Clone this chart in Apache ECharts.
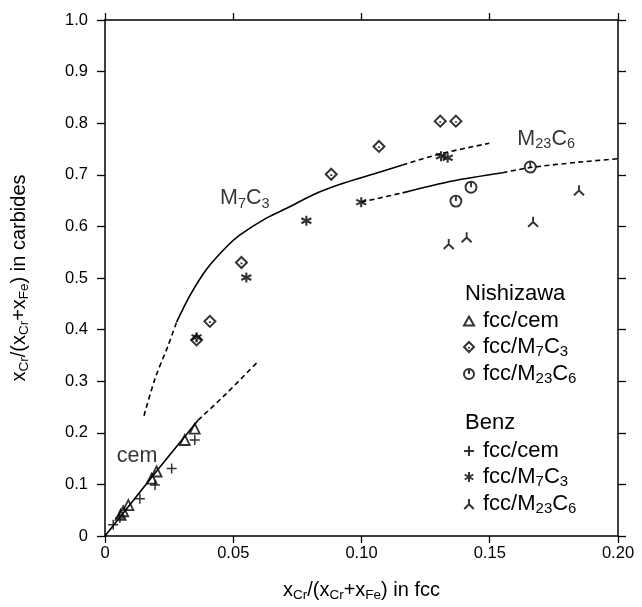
<!DOCTYPE html>
<html>
<head>
<meta charset="utf-8">
<script src="https://cdn.jsdelivr.net/npm/echarts@6/dist/echarts.min.js"></script>
<style>
  html, body { margin: 0; padding: 0; background: #fff; }
  #chart { width: 642px; height: 607px; }
</style>
</head>
<body>
<div id="chart"></div>
<script>
// Axis ticks
const xTicks = [0, 0.05, 0.10, 0.15, 0.20];
const xTickLabels = ['0', '0.05', '0.10', '0.15', '0.20'];
const yTicks = [0, 0.1, 0.2, 0.3, 0.4, 0.5, 0.6, 0.7, 0.8, 0.9, 1.0];
const yTickLabels = ['0', '0.1', '0.2', '0.3', '0.4', '0.5', '0.6', '0.7', '0.8', '0.9', '1.0'];

// Nishizawa measurements [x in fcc, x in carbide]
const nishCem = [[0.0061, 0.041], [0.0071, 0.048], [0.0091, 0.060], [0.0182, 0.111],
                 [0.0201, 0.125], [0.0311, 0.186], [0.035, 0.208]];
const nishM7C3 = [[0.0357, 0.380], [0.0409, 0.416], [0.0532, 0.530], [0.0882, 0.701],
                  [0.1068, 0.755], [0.1307, 0.804], [0.1368, 0.804]];
const nishM23C6 = [[0.1368, 0.649], [0.1427, 0.676], [0.1658, 0.715]];

// Benz measurements
const benzCem = [[0.0032, 0.022], [0.0058, 0.035], [0.0136, 0.072], [0.0195, 0.099],
                 [0.026, 0.131], [0.035, 0.186]];
const benzM7C3 = [[0.0357, 0.385], [0.0551, 0.501], [0.0785, 0.611], [0.0999, 0.647],
                  [0.131, 0.736], [0.1336, 0.733]];
const benzM23C6 = [[0.134, 0.566], [0.141, 0.579], [0.1669, 0.609], [0.1848, 0.670]];

// Calculated partition curves (solid = stable range, dashed = extrapolated)
const cemSolid = [[0, 0], [0.02, 0.125], [0.0363, 0.2245]];
const cemDash = [[0.0363, 0.2245], [0.0473, 0.276], [0.060, 0.340]];
const m7c3DashLow = [[0.0152, 0.233], [0.0195, 0.305], [0.0246, 0.369], [0.0279, 0.4145]];
const m7c3Solid = [[0.0279, 0.4145], [0.0331, 0.466], [0.0396, 0.517], [0.0473, 0.560],
                   [0.0525, 0.583], [0.0629, 0.616], [0.072, 0.638], [0.081, 0.661],
                   [0.0914, 0.681], [0.1044, 0.701], [0.1160, 0.719]];
const m7c3DashHigh = [[0.1160, 0.719], [0.131, 0.741], [0.1498, 0.761]];
const m23c6DashLow = [[0.0999, 0.647], [0.116, 0.665]];
const m23c6Solid = [[0.116, 0.665], [0.1355, 0.688], [0.155, 0.704]];
const m23c6DashHigh = [[0.155, 0.704], [0.1658, 0.714], [0.1848, 0.7245], [0.1997, 0.731]];

// Curve names, anchored in data coordinates
const curveLabelPos = [[0.0545, 0.654], [0.172, 0.770], [0.0125, 0.154]];
const curveLabelText = ['{c|M}{cs|7}{c|C}{cs|3}', '{c|M}{cs|23}{c|C}{cs|6}', '{c|cem}'];

const FONT = '"Liberation Sans", Arial, Helvetica, sans-serif';
const INK = '#000';

const rich = {
  n: { fontFamily: FONT, fontSize: 20, lineHeight: 24, color: INK },
  s: { fontFamily: FONT, fontSize: 13.5, lineHeight: 13, color: INK, verticalAlign: 'bottom' },
  l: { fontFamily: FONT, fontSize: 22, lineHeight: 24, color: INK },
  ls: { fontFamily: FONT, fontSize: 15, lineHeight: 13, color: INK, verticalAlign: 'bottom' },
  c: { fontFamily: FONT, fontSize: 21.5, lineHeight: 25, color: INK },
  cs: { fontFamily: FONT, fontSize: 14.5, lineHeight: 14, color: INK, verticalAlign: 'bottom' },
  g: { width: 4 }
};

// Marker outlines
const SYM = {
  tri: 'path://M5,0 L10,9 L0,9 Z',
  dia: 'path://M5,0 L10,5 L5,10 L0,5 Z M5,5 L5,6.5',
  cir: 'path://M5,0.5 A4.5,4.5 0 1 1 4.99,0.5 Z M5,1 L5,5',
  plus: 'path://M5,0 L5,10 M0,5 L10,5',
  star: 'path://M5,0 L5,10 M0.7,2.5 L9.3,7.5 M0.7,7.5 L9.3,2.5',
  ylam: 'path://M5,0 L5,5 L0.5,9.5 M5,5 L9.5,9.5'
};

function scatter(name, data, symbol, size, bw) {
  return {
    type: 'scatter', name: name, data: data, symbol: symbol, symbolSize: size,
    itemStyle: { color: 'rgba(255,255,255,0)', borderColor: INK, borderWidth: bw },
    z: 5
  };
}
function curve(data, dashed) {
  return {
    type: 'line', data: data, smooth: 0.3, showSymbol: false, symbol: 'none',
    lineStyle: { color: INK, width: 1.6, type: dashed ? [5, 3.5] : 'solid' },
    silent: true, z: 3
  };
}

const legendText = {
  'Nishizawa fcc/cem': '{g|}{l|fcc/cem}',
  'Nishizawa fcc/M7C3': '{g|}{l|fcc/M}{ls|7}{l|C}{ls|3}',
  'Nishizawa fcc/M23C6': '{g|}{l|fcc/M}{ls|23}{l|C}{ls|6}',
  'Benz fcc/cem': '{g|}{l|fcc/cem}',
  'Benz fcc/M7C3': '{g|}{l|fcc/M}{ls|7}{l|C}{ls|3}',
  'Benz fcc/M23C6': '{g|}{l|fcc/M}{ls|23}{l|C}{ls|6}'
};

function legendBlock(names, top) {
  return {
    data: names, orient: 'vertical', left: 463, top: top,
    itemWidth: 10, itemHeight: 10, itemGap: 4, padding: 0,
    selectedMode: false,
    formatter: (nm) => legendText[nm],
    textStyle: { rich: rich, fontFamily: FONT, fontSize: 22, color: INK }
  };
}

const axisLine = { show: true, onZero: false, lineStyle: { color: INK, width: 1.5 } };
const tickStyle = { color: INK, width: 1.3 };

const option = {
  backgroundColor: '#fff',
  animation: false,
  grid: { left: 105, right: 24, top: 20, bottom: 69, containLabel: false },
  xAxis: [
    {
      type: 'value', min: 0, max: 0.2, interval: 0.05, position: 'bottom',
      axisLine: axisLine, splitLine: { show: false },
      axisTick: { show: true, inside: false, length: 7, lineStyle: tickStyle },
      axisLabel: { color: INK, fontFamily: FONT, fontSize: 16.5, margin: 9,
        formatter: (v) => { const i = xTicks.findIndex(t => Math.abs(t - v) < 1e-9); return i >= 0 ? xTickLabels[i] : ''; } },
      name: '{n|x}{s|Cr}{n|/(x}{s|Cr}{n|+x}{s|Fe}{n|) in fcc}',
      nameLocation: 'middle', nameGap: 42,
      nameTextStyle: { rich: rich }
    },
    {
      type: 'value', min: 0, max: 0.2, interval: 0.05, position: 'top',
      axisLine: axisLine, splitLine: { show: false },
      axisTick: { show: true, inside: false, length: 7, lineStyle: tickStyle },
      axisLabel: { show: false }
    }
  ],
  yAxis: [
    {
      type: 'value', min: 0, max: 1.0, interval: 0.1, position: 'left',
      axisLine: axisLine, splitLine: { show: false },
      axisTick: { show: true, inside: false, length: 8, lineStyle: tickStyle },
      axisLabel: { color: INK, fontFamily: FONT, fontSize: 16.5, margin: 17,
        formatter: (v) => { const i = yTicks.findIndex(t => Math.abs(t - v) < 1e-9); return i >= 0 ? yTickLabels[i] : ''; } },
      name: '{n|x}{s|Cr}{n|/(x}{s|Cr}{n|+x}{s|Fe}{n|) in carbides}',
      nameLocation: 'middle', nameGap: 74,
      nameTextStyle: { rich: rich }
    },
    {
      type: 'value', min: 0, max: 1.0, interval: 0.1, position: 'right',
      axisLine: axisLine, splitLine: { show: false },
      axisTick: { show: true, inside: false, length: 8, lineStyle: tickStyle },
      axisLabel: { show: false }
    }
  ],
  legend: [
    legendBlock(['Nishizawa fcc/cem', 'Nishizawa fcc/M7C3', 'Nishizawa fcc/M23C6'], 310),
    legendBlock(['Benz fcc/cem', 'Benz fcc/M7C3', 'Benz fcc/M23C6'], 440)
  ],
  graphic: [
    { type: 'text', left: 465, top: 283, style: { text: 'Nishizawa', font: '22px ' + FONT, fill: INK } },
    { type: 'text', left: 465, top: 412, style: { text: 'Benz', font: '22px ' + FONT, fill: INK } }
  ],
  series: [
    curve(cemSolid, false), curve(cemDash, true),
    curve(m7c3DashLow, true), curve(m7c3Solid, false), curve(m7c3DashHigh, true),
    curve(m23c6DashLow, true), curve(m23c6Solid, false), curve(m23c6DashHigh, true),
    scatter('Nishizawa fcc/cem', nishCem, SYM.tri, 10, 1.8),
    scatter('Nishizawa fcc/M7C3', nishM7C3, SYM.dia, 11, 2),
    scatter('Nishizawa fcc/M23C6', nishM23C6, SYM.cir, 11, 1.9),
    scatter('Benz fcc/cem', benzCem, SYM.plus, 10, 1.5),
    scatter('Benz fcc/M7C3', benzM7C3, SYM.star, 10, 2.1),
    scatter('Benz fcc/M23C6', benzM23C6, SYM.ylam, 10, 1.9),
    {
      type: 'scatter', silent: true, symbolSize: 1,
      itemStyle: { color: 'rgba(0,0,0,0)' },
      data: curveLabelPos.map((p, i) => ({ value: p, text: curveLabelText[i] })),
      label: {
        show: true, position: 'inside',
        formatter: (p) => p.data.text,
        rich: rich
      },
      z: 6
    }
  ]
};

const chart = echarts.init(document.getElementById('chart'), null, { renderer: 'canvas' });
chart.setOption(option);
</script>
</body>
</html>
